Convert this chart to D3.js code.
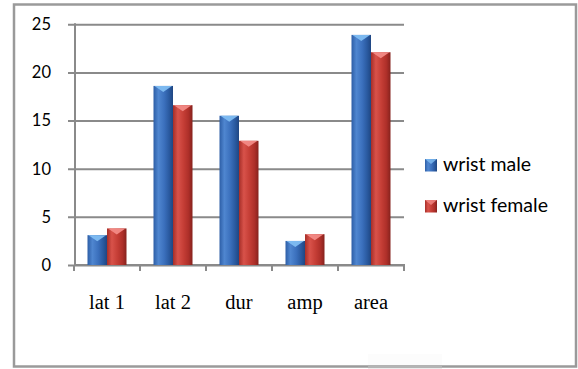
<!DOCTYPE html>
<html>
<head>
<meta charset="utf-8">
<script src="https://cdn.jsdelivr.net/npm/d3@7"></script>
<style>
  html, body { margin: 0; padding: 0; background: #fff; }
  svg { display: block; }
</style>
</head>
<body>
<svg id="chart" width="578" height="369"></svg>
<script>
// Nerve conduction measures, wrist recordings by sex
const categories = ["lat 1", "lat 2", "dur", "amp", "area"];
const seriesNames = ["wrist male", "wrist female"];
const maleValues = [3.1, 18.6, 15.5, 2.5, 23.9];
const femaleValues = [3.8, 16.6, 12.9, 3.2, 22.1];
const yTicks = [0, 5, 10, 15, 20, 25];

const svg = d3.select("#chart");
const defs = svg.append("defs");

// Cylinder-like shading for each series
const palettes = [
  { id: "gBlue", stops: ["#2d5ea6", "#4f86d0", "#3b70bd", "#2a5aa0", "#1f4682"], cap: "#7fbdf2" },
  { id: "gRed",  stops: ["#a62e28", "#d8524a", "#c43d35", "#ad2f29", "#86221d"], cap: "#f28a86" }
];
palettes.forEach(p => {
  const g = defs.append("linearGradient").attr("id", p.id)
    .attr("x1", "0%").attr("x2", "100%").attr("y1", "0%").attr("y2", "0%");
  [0, 25, 55, 80, 100].forEach((o, i) =>
    g.append("stop").attr("offset", o + "%").attr("stop-color", p.stops[i]));
});

// Outer frame
svg.append("rect")
  .attr("x", 14).attr("y", 4.5).attr("width", 562).attr("height", 362)
  .attr("fill", "#fff").attr("stroke", "#9a9a9a").attr("stroke-width", 2.5);
svg.append("rect")
  .attr("x", 368).attr("y", 354).attr("width", 74).attr("height", 11)
  .attr("fill", "#fcfcfc");
svg.append("line")
  .attr("x1", 368).attr("x2", 442).attr("y1", 367).attr("y2", 367)
  .attr("stroke", "#b4b4b4").attr("stroke-width", 2.5);

const x = d3.scaleBand().domain(categories).range([74, 404]).paddingInner(0).paddingOuter(0);
const y = d3.scaleLinear().domain([0, 25]).range([265, 24.3]);
const sub = d3.scaleBand().domain(seriesNames).range([0, 39]);

const gridColor = "#8a8a8a";

// Horizontal gridlines (extend left as tick marks)
svg.append("g")
  .attr("transform", "translate(68,0)")
  .call(d3.axisRight(y).tickValues(yTicks).tickSize(404 - 68).tickFormat(""))
  .call(g => g.select(".domain").remove())
  .call(g => g.selectAll(".tick line").attr("stroke", gridColor).attr("stroke-width", 2));

// Y axis labels
svg.append("g")
  .attr("transform", "translate(75,0)")
  .call(d3.axisLeft(y).tickValues(yTicks).tickSize(0).tickPadding(24))
  .call(g => g.select(".domain").remove())
  .call(g => g.selectAll("text")
    .attr("font-family", "Lato, 'Open Sans', sans-serif")
    .attr("font-size", 16.5).attr("fill", "#000"));

// Vertical value axis line
svg.append("line")
  .attr("x1", 75).attr("x2", 75).attr("y1", y(25) - 1).attr("y2", y(0))
  .attr("stroke", gridColor).attr("stroke-width", 2);

// Category axis with boundary ticks
const boundaries = categories.map(c => x(c)).concat([x.range()[1]]);
svg.append("line")
  .attr("x1", 74).attr("x2", 405).attr("y1", y(0)).attr("y2", y(0))
  .attr("stroke", gridColor).attr("stroke-width", 2);
svg.selectAll(".xtick").data(boundaries).join("line")
  .attr("class", "xtick")
  .attr("x1", d => d).attr("x2", d => d)
  .attr("y1", y(0)).attr("y2", y(0) + 6)
  .attr("stroke", gridColor).attr("stroke-width", 2);

svg.selectAll(".xlab").data(categories).join("text")
  .attr("class", "xlab")
  .attr("x", d => x(d) + x.bandwidth() / 2)
  .attr("y", 309)
  .attr("text-anchor", "middle")
  .attr("font-family", "'Liberation Serif', 'Times New Roman', serif")
  .attr("font-size", 20.5).attr("fill", "#000")
  .text(d => d);

// Bars
const rows = categories.map((c, i) => ({ c, vals: [maleValues[i], femaleValues[i]] }));
const groupOffset = (x.bandwidth() - 39) / 2;

rows.forEach(r => {
  r.vals.forEach((v, si) => {
    const p = palettes[si];
    const x0 = x(r.c) + groupOffset + sub(seriesNames[si]);
    const w = sub.bandwidth();
    const top = y(v);
    svg.append("rect")
      .attr("x", x0).attr("y", top)
      .attr("width", w).attr("height", y(0) - top)
      .attr("fill", `url(#${p.id})`);
    // top cap
    svg.append("path")
      .attr("d", `M${x0 + 1},${top} L${x0 + w - 1},${top} L${x0 + w / 2},${top + 6} Z`)
      .attr("fill", p.cap).attr("opacity", 0.95);
  });
});

// Legend
const legend = svg.append("g");
const legendY = [159, 200];
seriesNames.forEach((name, i) => {
  const p = palettes[i];
  legend.append("rect")
    .attr("x", 425).attr("y", legendY[i]).attr("width", 12).attr("height", 12.5)
    .attr("fill", `url(#${p.id})`);
  legend.append("path")
    .attr("d", `M425,${legendY[i]} L437,${legendY[i]} L431,${legendY[i] + 5} Z`)
    .attr("fill", p.cap).attr("opacity", 0.8);
  legend.append("text")
    .attr("x", 443).attr("y", legendY[i] + 12)
    .attr("font-family", "Lato, 'Open Sans', sans-serif")
    .attr("font-size", 19.5).attr("fill", "#000")
    .text(name);
});
</script>
</body>
</html>
